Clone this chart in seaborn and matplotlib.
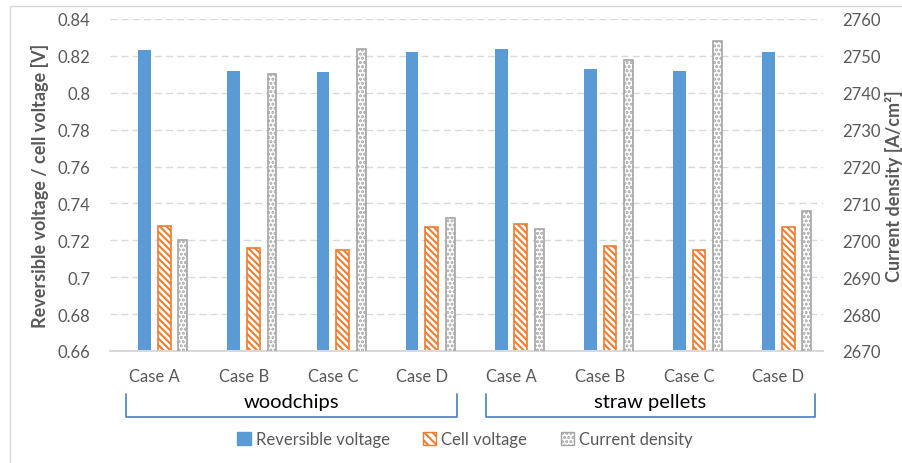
import numpy as np
import pandas as pd
import matplotlib
matplotlib.use('Agg')
import matplotlib.pyplot as plt
from matplotlib.patches import Patch, Rectangle
from matplotlib.ticker import FuncFormatter, MultipleLocator
import seaborn as sns

# data
fuels = ['woodchips', 'straw pellets']
cases = ['Case A', 'Case B', 'Case C', 'Case D']
rev_v = [0.823, 0.812, 0.811, 0.822, 0.824, 0.813, 0.812, 0.822]
cell_v = [0.728, 0.716, 0.715, 0.727, 0.729, 0.717, 0.715, 0.727]
cur_d = [2700, 2745, 2752, 2706, 2703, 2749, 2754, 2708]

blue = '#5B9BD5'
orange = '#ED7D31'
grey = '#A5A5A5'
txt = '#595959'

sns.set_style('white')
plt.rcParams['font.family'] = ['Lato', 'DejaVu Sans']
plt.rcParams['hatch.linewidth'] = 1.5

cats = [f + ' ' + c for f in fuels for c in cases]
df = pd.DataFrame({
    'cat': cats * 2,
    'value': rev_v + cell_v,
    'series': ['Reversible voltage'] * 8 + ['Cell voltage'] * 8,
})

fig = plt.figure(figsize=(9.03, 4.64), dpi=100)
ax = fig.add_axes([0.1218, 0.2414, 0.9114 - 0.1218, 0.9569 - 0.2414])

sns.barplot(data=df, x='cat', y='value', hue='series', order=cats,
            hue_order=['Reversible voltage', 'Cell voltage'],
            palette=[blue, orange], width=0.44, gap=0.35, errorbar=None,
            legend=False, ax=ax, linewidth=0, saturation=1)

# hatched cell voltage bars
for bar in ax.containers[1]:
    bar.set_facecolor('white')
    bar.set_edgecolor(orange)
    bar.set_hatch('\\\\\\\\\\')
    bar.set_linewidth(1.2)

ax.set_ylim(0.66, 0.84)
ax.yaxis.set_major_locator(MultipleLocator(0.02))
ax.yaxis.set_major_formatter(FuncFormatter(lambda v, p: f'{round(v, 2):g}'))
ax.grid(axis='y', color='#D9D9D9', linestyle=(0, (5, 3)), linewidth=1)
ax.set_axisbelow(True)
ax.set_xticks(range(8))
ax.set_xticklabels(cases * 2)
ax.set_xlabel('')
ax.set_ylabel('Reversible voltage / cell voltage [V]', color=txt,
              fontsize=13, fontweight='bold', labelpad=6)
ax.tick_params(axis='both', length=0, colors=txt, labelsize=12)
ax.tick_params(axis='x', pad=12)
ax.tick_params(axis='y', pad=14)
for s in ['top', 'right', 'left']:
    ax.spines[s].set_visible(False)
ax.spines['bottom'].set_color('#D9D9D9')
ax.spines['bottom'].set_linewidth(1.5)

# current density on secondary axis
ax2 = ax.twinx()
x = np.arange(len(cur_d))
ax2.bar(x + 0.318, cur_d, width=0.1, color='white',
        edgecolor=grey, hatch='....', linewidth=1.2)
ax2.set_ylim(2670, 2760)
ax2.yaxis.set_major_locator(MultipleLocator(10))
ax2.set_ylabel('Current density [A/cm²]', color=txt, fontsize=13,
               fontweight='bold', labelpad=3)
ax2.tick_params(axis='y', length=0, colors=txt, labelsize=12, pad=14)
for s in ['top', 'right', 'left', 'bottom']:
    ax2.spines[s].set_visible(False)
ax.set_xlim(-0.5, 7.5)

# group brackets under the case labels
W, H = 903, 464
def bracket(x0, x1, label):
    y0, y1 = 1 - 395 / H, 1 - 418 / H
    fig.add_artist(plt.Line2D([x0 / W, x0 / W, x1 / W, x1 / W],
                              [y0, y1, y1, y0], color='#4A7EBB', lw=1.2))
    fig.text((x0 + x1) / 2 / W, 1 - 403 / H, label, ha='center',
             va='center', fontsize=14.5, color='black')

bracket(126, 457, fuels[0])
bracket(486, 815, fuels[1])

# legend
handles = [Patch(facecolor=blue, edgecolor=blue),
           Patch(facecolor='white', edgecolor=orange, hatch='\\\\\\\\'),
           Patch(facecolor='white', edgecolor=grey, hatch='....')]
fig.legend(handles, ['Reversible voltage', 'Cell voltage', 'Current density'],
           loc='center', bbox_to_anchor=(0.515, 1 - 440 / H), ncol=3,
           frameon=False, fontsize=12, labelcolor=txt, handlelength=0.8,
           handleheight=0.8, handletextpad=0.3, columnspacing=2.0)

# chart border
fig.add_artist(Rectangle((10 / W, -0.05), 1.0, (H - 7) / H + 0.05,
                         transform=fig.transFigure, fill=False,
                         edgecolor='#D9D9D9', lw=1))

fig.savefig('out.png', dpi=100)
